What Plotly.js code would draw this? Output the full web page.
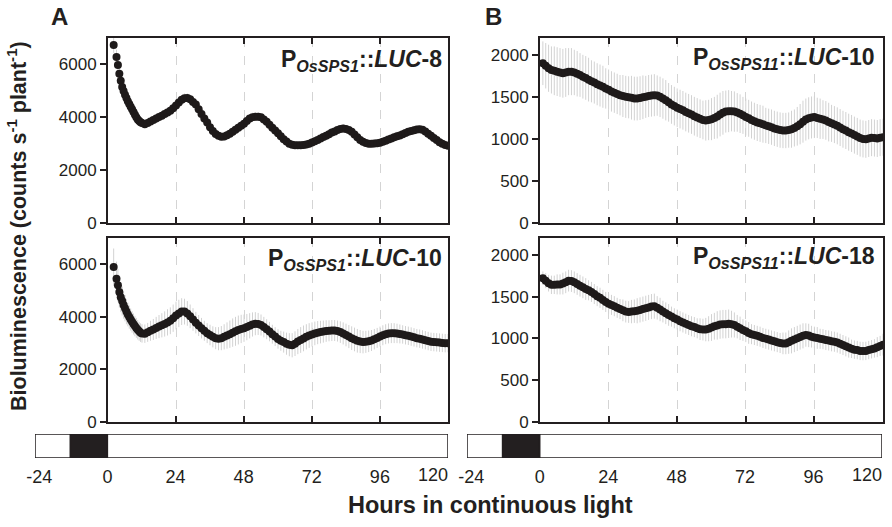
<!DOCTYPE html>
<html>
<head>
<meta charset="utf-8">
<script src="https://cdn.plot.ly/plotly-3.0.1.min.js"></script>
<style>html,body{margin:0;padding:0;background:#fff;}#chart{width:892px;height:527px;}</style>
</head>
<body>
<div id="chart"></div>
<script>
// ---- data (hours in continuous light) ----
const hoursA = [2,3,3.5,4,4.5,5,5.5,6,6.5,7,7.5,8,8.5,9,9.5,10,10.5,11,11.5,12,13,14,15,16,17,18,19,20,21,22,23,24,25,26,27,28,29,30,31,32,33,34,35,36,37,38,39,40,41,42,43,44,45,46,47,48,49,50,51,52,53,54,55,56,57,58,59,60,61,62,63,64,65,66,67,68,69,70,71,72,73,74,75,76,77,78,79,80,81,82,83,84,85,86,87,88,89,90,91,92,93,94,95,96,97,98,99,100,101,102,103,104,105,106,107,108,109,110,111,112,113,114,115,116,117,118,119,120];
const hoursB = [1,2,3,4,5,6,7,8,9,10,11,12,13,14,15,16,17,18,19,20,21,22,23,24,25,26,27,28,29,30,31,32,33,34,35,36,37,38,39,40,41,42,43,44,45,46,47,48,49,50,51,52,53,54,55,56,57,58,59,60,61,62,63,64,65,66,67,68,69,70,71,72,73,74,75,76,77,78,79,80,81,82,83,84,85,86,87,88,89,90,91,92,93,94,95,96,97,98,99,100,101,102,103,104,105,106,107,108,109,110,111,112,113,114,115,116,117,118,119,120];

// P OsSPS1::LUC-8
const sps1_8 = [6735,6280,5980,5650,5380,5150,4990,4850,4730,4610,4500,4400,4300,4200,4100,4000,3920,3860,3810,3780,3740,3780,3840,3900,3950,4010,4060,4120,4180,4250,4340,4450,4560,4660,4720,4730,4680,4580,4480,4300,4120,3950,3800,3620,3480,3370,3300,3260,3270,3320,3380,3450,3530,3600,3680,3760,3860,3950,4000,4020,4020,4000,3920,3830,3720,3600,3500,3400,3280,3170,3080,3000,2960,2940,2940,2940,2950,2970,3000,3050,3090,3140,3200,3250,3300,3360,3420,3460,3520,3560,3580,3560,3520,3450,3350,3240,3140,3070,3030,3000,3000,3010,3020,3040,3070,3110,3160,3200,3240,3280,3310,3360,3410,3450,3480,3510,3540,3550,3530,3460,3380,3300,3220,3140,3060,3000,2950,2920];
const sps1_8_err = [300,280,270,260,250,240,230,220,210,200,195,190,185,180,175,170,165,160,155,150,150,150,150,150,160,160,160,170,170,170,180,180,180,180,180,170,170,160,160,160,150,150,150,140,140,140,140,140,150,150,150,160,160,160,170,170,170,170,170,160,160,150,150,150,140,140,140,130,130,130,130,130,130,140,140,140,150,150,150,150,160,160,160,170,170,170,160,160,150,150,150,140,140,140,140,130,130,130,140,140,140,150,150,150,160,160,160,170,170,170,170,160,160,150,150,150,140,140,140,140,140,130,130,130,130,130,130,130];

// P OsSPS1::LUC-10
const sps1_10 = [5900,5450,5200,4950,4750,4600,4450,4330,4200,4090,3990,3900,3810,3730,3650,3580,3510,3450,3400,3370,3360,3410,3470,3520,3580,3630,3680,3730,3790,3850,3950,4050,4130,4200,4200,4130,4020,3900,3780,3670,3570,3470,3380,3310,3240,3190,3170,3190,3240,3290,3340,3400,3450,3500,3540,3570,3610,3660,3710,3740,3730,3690,3610,3530,3440,3340,3250,3160,3090,3040,2980,2940,2920,2980,3060,3120,3180,3240,3290,3330,3370,3400,3420,3440,3460,3470,3480,3480,3460,3420,3370,3310,3250,3190,3140,3090,3060,3040,3050,3070,3100,3150,3200,3250,3300,3340,3370,3380,3380,3370,3350,3330,3300,3280,3250,3220,3190,3170,3140,3110,3080,3050,3040,3030,3020,3010,3000,3000];
const sps1_10_err = [700,650,620,600,570,550,520,500,480,450,440,420,410,400,390,380,370,360,355,350,350,360,380,400,420,440,460,480,500,510,520,530,520,510,490,470,450,430,410,400,390,380,380,390,400,420,440,460,480,500,520,540,550,550,540,520,500,480,460,440,420,400,390,380,370,360,360,370,380,400,420,440,460,470,480,490,490,480,470,460,450,440,430,420,410,400,400,400,400,410,420,430,440,450,450,450,440,430,420,410,400,390,380,380,380,380,380,380,380,370,360,350,350,350,350,350,350,350,350,350,350,350,350,350,350,350,350,350];

// P OsSPS11::LUC-10
const sps11_10 = [1900,1870,1840,1820,1810,1800,1790,1780,1790,1800,1800,1790,1775,1760,1740,1725,1705,1685,1670,1650,1635,1620,1600,1585,1565,1550,1535,1520,1510,1500,1495,1490,1480,1480,1485,1495,1500,1510,1515,1520,1515,1500,1480,1460,1435,1410,1390,1370,1355,1340,1320,1305,1290,1270,1255,1240,1225,1220,1225,1235,1250,1265,1290,1310,1325,1330,1330,1325,1315,1300,1280,1260,1245,1225,1210,1195,1185,1175,1160,1150,1140,1125,1115,1105,1100,1100,1105,1115,1130,1150,1175,1205,1230,1245,1255,1260,1250,1240,1230,1220,1200,1185,1170,1155,1135,1115,1100,1080,1065,1045,1030,1010,1000,995,1005,1015,1010,1005,1015,1020];
const sps11_10_err = [260,270,280,280,290,290,290,290,290,280,280,270,270,260,260,260,260,250,250,250,250,250,240,240,240,240,240,240,250,250,250,260,260,260,260,260,250,250,250,250,240,240,240,240,230,230,230,230,230,230,230,230,230,230,230,230,230,240,240,250,250,260,260,260,250,250,240,240,230,230,220,220,220,220,220,220,220,220,210,210,210,210,210,210,210,210,210,220,220,230,240,250,250,250,250,250,240,240,230,230,230,220,220,220,220,220,220,220,220,220,220,220,220,220,220,220,220,220,220,220];

// P OsSPS11::LUC-18
const sps11_18 = [1720,1690,1660,1640,1640,1645,1645,1655,1670,1690,1685,1670,1650,1630,1610,1590,1575,1555,1530,1505,1485,1460,1435,1415,1400,1385,1365,1350,1335,1320,1315,1320,1325,1330,1340,1350,1360,1370,1380,1385,1365,1345,1320,1300,1280,1260,1240,1225,1205,1190,1175,1160,1145,1135,1120,1110,1105,1105,1115,1130,1145,1155,1165,1170,1170,1175,1170,1160,1140,1120,1100,1085,1065,1050,1040,1030,1020,1005,995,985,975,965,955,945,940,940,955,970,985,1000,1015,1030,1040,1035,1020,1010,1005,995,990,980,975,965,960,950,935,920,905,890,875,865,860,850,848,850,860,870,880,895,910,925];
const sps11_18_err = [80,90,100,110,110,120,120,130,130,130,130,130,130,130,130,130,120,120,120,120,120,120,120,120,120,120,120,120,130,130,130,140,140,150,150,150,150,150,150,150,140,140,130,130,130,120,120,120,120,120,120,120,120,120,120,130,130,140,150,160,160,170,170,170,170,170,160,150,140,140,130,130,130,120,120,120,120,120,120,120,120,120,120,120,130,130,140,150,150,150,150,150,140,140,130,130,130,120,120,120,120,120,120,120,120,120,120,120,110,110,110,110,110,110,110,110,110,120,120,130];

// light/dark schedule before release into continuous light
const phaseStart = [-25.5, -13, 0];
const phaseEnd   = [-13, 0, 120];
const phaseDark  = [false, true, false];

const xTicks = [-24, 0, 24, 48, 72, 96];
const xLastTick = 120;
const gridHours = [24, 48, 72, 96];
const ticksA = [0, 2000, 4000, 6000];
const ticksB = [0, 500, 1000, 1500, 2000];

// ---- layout helpers ----
const W = 892, H = 527;
const px = v => v / W;
const py = v => 1 - v / H;
const FONT = 'Liberation Sans, Arial, sans-serif';
const INK = '#231f20';

function series(x, y, err, xa, ya) {
  return {
    type: 'scatter', mode: 'markers', x: x, y: y, xaxis: xa, yaxis: ya,
    marker: {color: '#1e1a1a', size: 8},
    error_y: {type: 'data', array: err, visible: true, color: '#d2d2d2', thickness: 1, width: 0},
    hoverinfo: 'x+y', showlegend: false
  };
}
function lightBar(xa, ya) {
  return {
    type: 'bar', orientation: 'h', xaxis: xa, yaxis: ya,
    base: phaseStart, x: phaseEnd.map((e, i) => e - phaseStart[i]), y: [0, 0, 0],
    width: 1,
    marker: {color: phaseDark.map(d => d ? INK : '#ffffff'), line: {color: INK, width: 1.5}},
    hoverinfo: 'skip', showlegend: false
  };
}

const data = [
  series(hoursA, sps1_8, sps1_8_err, 'x', 'y'),
  series(hoursA, sps1_10, sps1_10_err, 'x2', 'y2'),
  series(hoursB, sps11_10, sps11_10_err, 'x3', 'y3'),
  series(hoursB, sps11_18, sps11_18_err, 'x4', 'y4'),
  lightBar('x5', 'y5'),
  lightBar('x6', 'y6')
];

function plotX(domain, anchor) {
  return {
    domain: domain, anchor: anchor, range: [0, 120],
    tickvals: gridHours, showticklabels: false,
    ticks: 'inside', ticklen: 6, tickwidth: 2, tickcolor: INK,
    showline: true, linecolor: INK, linewidth: 2, mirror: 'ticks',
    showgrid: true, gridcolor: '#d4d4d4', gridwidth: 1, griddash: 'dash',
    zeroline: false, fixedrange: true
  };
}
function plotY(domain, anchor, range, ticks) {
  return {
    domain: domain, anchor: anchor, range: range,
    tickvals: ticks, ticktext: ticks.map(String),
    ticks: 'outside', ticklen: 6, tickwidth: 2, tickcolor: INK,
    showline: true, linecolor: INK, linewidth: 2, mirror: true,
    showgrid: false, zeroline: false,
    tickfont: {family: FONT, size: 17, color: INK}, fixedrange: true
  };
}
function barX(domain, anchor) {
  return {
    domain: domain, anchor: anchor, range: [-25.5, 120],
    tickvals: xTicks, ticktext: xTicks.map(String), ticks: '',
    ticklabelstandoff: 6,
    showline: false, showgrid: false, zeroline: false,
    tickfont: {family: FONT, size: 18, color: INK}, fixedrange: true
  };
}
function barY(domain, anchor) {
  return {domain: domain, anchor: anchor, range: [-0.5, 0.5], showticklabels: false,
          ticks: '', showline: false, showgrid: false, zeroline: false, fixedrange: true};
}

const colA = [px(108), px(448)];
const colB = [px(540), px(883)];
const rowTop = [py(223), py(38)];
const rowBot = [py(422), py(238)];
const rowBar = [py(458), py(434)];

function label(txt, x, y, xa, ya, opts) {
  return Object.assign({text: txt, x: x, y: y, xref: xa, yref: ya, showarrow: false,
    font: {family: FONT, size: 23, color: INK}}, opts || {});
}

const layout = {
  width: W, height: H,
  margin: {l: 0, r: 0, t: 0, b: 0},
  paper_bgcolor: '#ffffff', plot_bgcolor: 'rgba(0,0,0,0)',
  showlegend: false, barmode: 'overlay', bargap: 0,
  xaxis: plotX(colA, 'y'), yaxis: plotY(rowTop, 'x', [0, 7000], ticksA),
  xaxis2: plotX(colA, 'y2'), yaxis2: plotY(rowBot, 'x2', [0, 7000], ticksA),
  xaxis3: plotX(colB, 'y3'), yaxis3: plotY(rowTop, 'x3', [0, 2200], ticksB),
  xaxis4: plotX(colB, 'y4'), yaxis4: plotY(rowBot, 'x4', [0, 2200], ticksB),
  xaxis5: barX([px(35), px(448)], 'y5'), yaxis5: barY(rowBar, 'x5'),
  xaxis6: barX([px(467), px(882)], 'y6'), yaxis6: barY(rowBar, 'x6'),
  annotations: [
    label('<b>P<sub><i>OsSPS1</i></sub>::<i>LUC</i>-8</b>', px(444), py(60), 'paper', 'paper', {xanchor: 'right', yanchor: 'middle'}),
    label('<b>P<sub><i>OsSPS1</i></sub>::<i>LUC</i>-10</b>', px(444), py(259), 'paper', 'paper', {xanchor: 'right', yanchor: 'middle'}),
    label('<b>P<sub><i>OsSPS11</i></sub>::<i>LUC</i>-10</b>', px(877), py(59), 'paper', 'paper', {xanchor: 'right', yanchor: 'middle'}),
    label('<b>P<sub><i>OsSPS11</i></sub>::<i>LUC</i>-18</b>', px(877), py(258), 'paper', 'paper', {xanchor: 'right', yanchor: 'middle'}),
    label(String(xLastTick), xLastTick, py(475), 'x5', 'paper', {xanchor: 'right', yanchor: 'middle', xshift: 2, font: {family: FONT, size: 18, color: INK}}),
    label(String(xLastTick), xLastTick, py(475), 'x6', 'paper', {xanchor: 'right', yanchor: 'middle', xshift: 2, font: {family: FONT, size: 18, color: INK}}),
    label('<b>A</b>', px(59), py(16), 'paper', 'paper', {xanchor: 'center', yanchor: 'middle', font: {family: FONT, size: 24, color: INK}}),
    label('<b>B</b>', px(493), py(16), 'paper', 'paper', {xanchor: 'center', yanchor: 'middle', font: {family: FONT, size: 24, color: INK}}),
    label('<b>Bioluminescence (counts s<sup>-1</sup> plant<sup>-1</sup>)</b>', px(17), py(226), 'paper', 'paper',
          {textangle: -90, xanchor: 'center', yanchor: 'middle', font: {family: FONT, size: 21.5, color: INK}}),
    label('<b>Hours in continuous light</b>', px(490), py(505), 'paper', 'paper',
          {xanchor: 'center', yanchor: 'middle', font: {family: FONT, size: 23.5, color: INK}})
  ]
};

Plotly.newPlot('chart', data, layout, {displayModeBar: false, staticPlot: true});
</script>
</body>
</html>
